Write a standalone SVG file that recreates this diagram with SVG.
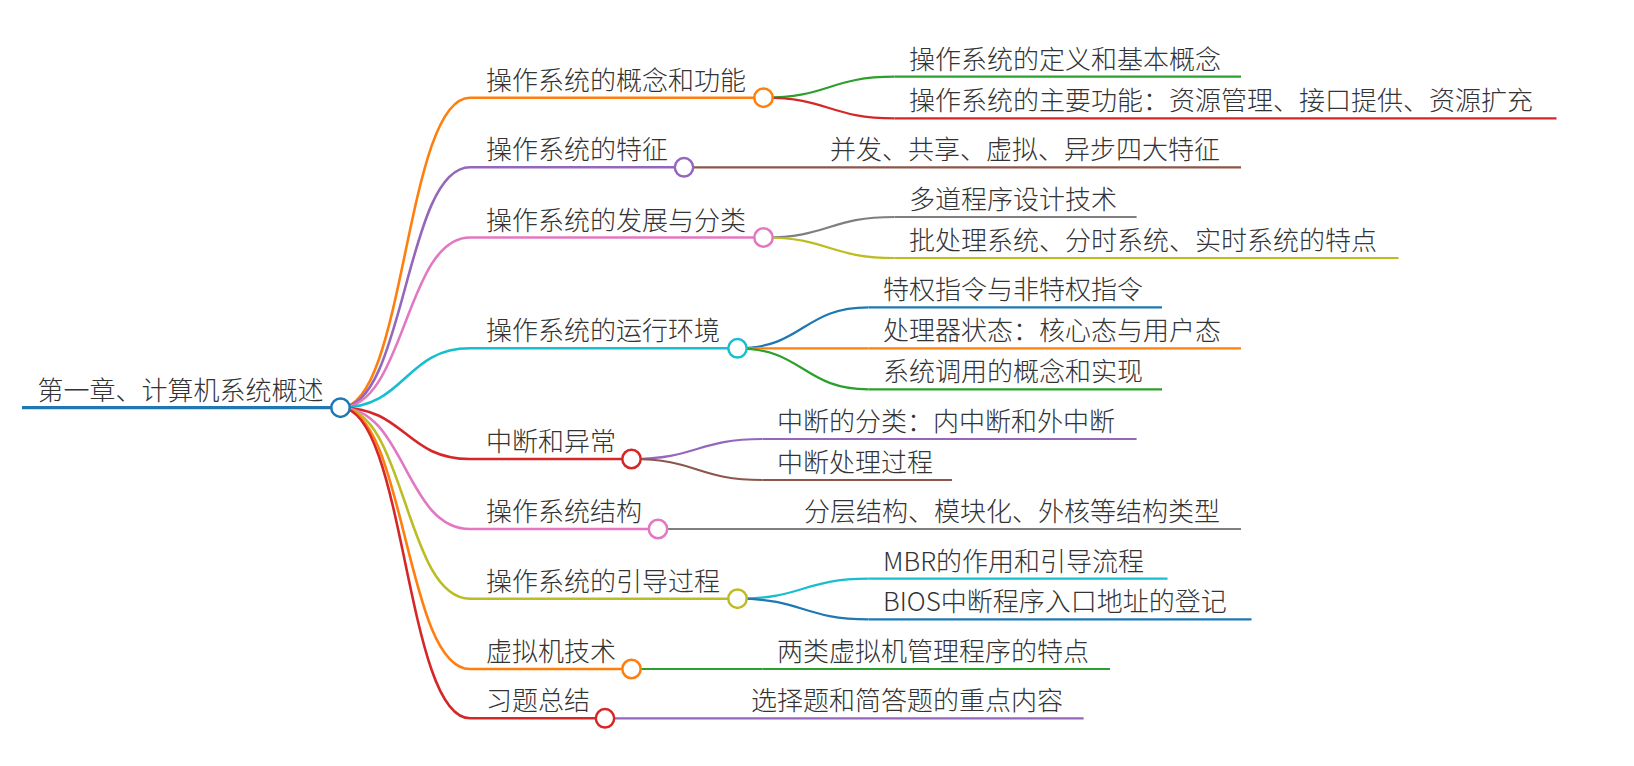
<svg xmlns="http://www.w3.org/2000/svg" width="1634" height="766" viewBox="0 0 1634 766">
<style>
text{font-family:"Noto Sans CJK SC","Noto Sans",sans-serif;font-size:26px;font-weight:300;fill:#333}
.l0{stroke-width:3.2;fill:none}
.l1{stroke-width:2.6;fill:none}
.l2{stroke-width:2.2;fill:none}
circle{fill:#fff;stroke-width:2.5}
</style>
<rect width="1634" height="766" fill="#fff"/>
<g id="connectors">
<path class="l1" stroke="#ff7f0e" d="M340.5,407.7 C405.25,407.7 405.25,97.7 470,97.7"/>
<path class="l1" stroke="#9467bd" d="M340.5,407.7 C405.25,407.7 405.25,167.3 470,167.3"/>
<path class="l1" stroke="#e377c2" d="M340.5,407.7 C405.25,407.7 405.25,237.5 470,237.5"/>
<path class="l1" stroke="#17becf" d="M340.5,407.7 C405.25,407.7 405.25,348.3 470,348.3"/>
<path class="l1" stroke="#d62728" d="M340.5,407.7 C405.25,407.7 405.25,459 470,459"/>
<path class="l1" stroke="#e377c2" d="M340.5,407.7 C405.25,407.7 405.25,529 470,529"/>
<path class="l1" stroke="#bcbd22" d="M340.5,407.7 C405.25,407.7 405.25,598.7 470,598.7"/>
<path class="l1" stroke="#ff7f0e" d="M340.5,407.7 C405.25,407.7 405.25,669 470,669"/>
<path class="l1" stroke="#d62728" d="M340.5,407.7 C405.25,407.7 405.25,718.3 470,718.3"/>
<path class="l2" stroke="#2ca02c" d="M763.5,97.7 C829,97.7 829,76.7 894.5,76.7"/>
<path class="l2" stroke="#d62728" d="M763.5,97.7 C829,97.7 829,118.3 894.5,118.3"/>
<path class="l2" stroke="#8c564b" d="M684,167.3 L815,167.3"/>
<path class="l2" stroke="#7f7f7f" d="M763.5,237.5 C829,237.5 829,217 894.5,217"/>
<path class="l2" stroke="#bcbd22" d="M763.5,237.5 C829,237.5 829,258 894.5,258"/>
<path class="l2" stroke="#1f77b4" d="M737.5,348.3 C803,348.3 803,307.3 868.5,307.3"/>
<path class="l2" stroke="#ff7f0e" d="M737.5,348.3 L868.5,348.3"/>
<path class="l2" stroke="#2ca02c" d="M737.5,348.3 C803,348.3 803,389.3 868.5,389.3"/>
<path class="l2" stroke="#9467bd" d="M631.5,459 C697,459 697,439 762.5,439"/>
<path class="l2" stroke="#8c564b" d="M631.5,459 C697,459 697,480 762.5,480"/>
<path class="l2" stroke="#7f7f7f" d="M658,529 L789,529"/>
<path class="l2" stroke="#17becf" d="M737.5,598.7 C803,598.7 803,578.7 868.5,578.7"/>
<path class="l2" stroke="#1f77b4" d="M737.5,598.7 C803,598.7 803,619.3 868.5,619.3"/>
<path class="l2" stroke="#2ca02c" d="M631.5,669 L762.5,669"/>
<path class="l2" stroke="#9467bd" d="M605,718.3 L736,718.3"/>
</g>
<g id="root">
<line class="l0" stroke="#1f77b4" x1="22" y1="407.7" x2="340.5" y2="407.7"/>
<circle cx="340.5" cy="407.7" r="9.2" stroke="#1f77b4"/>
<text x="37.5" y="399.7">第一章、计算机系统概述</text>
</g>
<g id="n1">
<line class="l1" stroke="#ff7f0e" x1="470" y1="97.7" x2="763.5" y2="97.7"/>
<circle cx="763.5" cy="97.7" r="9.2" stroke="#ff7f0e"/>
<text x="486" y="89.7">操作系统的概念和功能</text>
</g>
<g id="n2">
<line class="l1" stroke="#9467bd" x1="470" y1="167.3" x2="684" y2="167.3"/>
<circle cx="684" cy="167.3" r="9.2" stroke="#9467bd"/>
<text x="486" y="159.3">操作系统的特征</text>
</g>
<g id="n3">
<line class="l1" stroke="#e377c2" x1="470" y1="237.5" x2="763.5" y2="237.5"/>
<circle cx="763.5" cy="237.5" r="9.2" stroke="#e377c2"/>
<text x="486" y="229.5">操作系统的发展与分类</text>
</g>
<g id="n4">
<line class="l1" stroke="#17becf" x1="470" y1="348.3" x2="737.5" y2="348.3"/>
<circle cx="737.5" cy="348.3" r="9.2" stroke="#17becf"/>
<text x="486" y="340.3">操作系统的运行环境</text>
</g>
<g id="n5">
<line class="l1" stroke="#d62728" x1="470" y1="459" x2="631.5" y2="459"/>
<circle cx="631.5" cy="459" r="9.2" stroke="#d62728"/>
<text x="486" y="451">中断和异常</text>
</g>
<g id="n6">
<line class="l1" stroke="#e377c2" x1="470" y1="529" x2="658" y2="529"/>
<circle cx="658" cy="529" r="9.2" stroke="#e377c2"/>
<text x="486" y="521">操作系统结构</text>
</g>
<g id="n7">
<line class="l1" stroke="#bcbd22" x1="470" y1="598.7" x2="737.5" y2="598.7"/>
<circle cx="737.5" cy="598.7" r="9.2" stroke="#bcbd22"/>
<text x="486" y="590.7">操作系统的引导过程</text>
</g>
<g id="n8">
<line class="l1" stroke="#ff7f0e" x1="470" y1="669" x2="631.5" y2="669"/>
<circle cx="631.5" cy="669" r="9.2" stroke="#ff7f0e"/>
<text x="486" y="661">虚拟机技术</text>
</g>
<g id="n9">
<line class="l1" stroke="#d62728" x1="470" y1="718.3" x2="605" y2="718.3"/>
<circle cx="605" cy="718.3" r="9.2" stroke="#d62728"/>
<text x="486" y="710.3">习题总结</text>
</g>
<g id="n1a">
<line class="l2" stroke="#2ca02c" x1="894.5" y1="76.7" x2="1241" y2="76.7"/>
<text x="909" y="68.7">操作系统的定义和基本概念</text>
</g>
<g id="n1b">
<line class="l2" stroke="#d62728" x1="894.5" y1="118.3" x2="1556.5" y2="118.3"/>
<text x="909" y="110.3">操作系统的主要功能：资源管理、接口提供、资源扩充</text>
</g>
<g id="n2a">
<line class="l2" stroke="#8c564b" x1="815" y1="167.3" x2="1241" y2="167.3"/>
<text x="830" y="159.3">并发、共享、虚拟、异步四大特征</text>
</g>
<g id="n3a">
<line class="l2" stroke="#7f7f7f" x1="894.5" y1="217" x2="1136.6" y2="217"/>
<text x="909" y="209">多道程序设计技术</text>
</g>
<g id="n3b">
<line class="l2" stroke="#bcbd22" x1="894.5" y1="258" x2="1398.6" y2="258"/>
<text x="909" y="250">批处理系统、分时系统、实时系统的特点</text>
</g>
<g id="n4a">
<line class="l2" stroke="#1f77b4" x1="868.5" y1="307.3" x2="1162" y2="307.3"/>
<text x="883" y="299.3">特权指令与非特权指令</text>
</g>
<g id="n4b">
<line class="l2" stroke="#ff7f0e" x1="868.5" y1="348.3" x2="1241" y2="348.3"/>
<text x="883" y="340.3">处理器状态：核心态与用户态</text>
</g>
<g id="n4c">
<line class="l2" stroke="#2ca02c" x1="868.5" y1="389.3" x2="1162" y2="389.3"/>
<text x="883" y="381.3">系统调用的概念和实现</text>
</g>
<g id="n5a">
<line class="l2" stroke="#9467bd" x1="762.5" y1="439" x2="1136.6" y2="439"/>
<text x="777" y="431">中断的分类：内中断和外中断</text>
</g>
<g id="n5b">
<line class="l2" stroke="#8c564b" x1="762.5" y1="480" x2="952" y2="480"/>
<text x="777" y="472">中断处理过程</text>
</g>
<g id="n6a">
<line class="l2" stroke="#7f7f7f" x1="789" y1="529" x2="1241" y2="529"/>
<text x="804" y="521">分层结构、模块化、外核等结构类型</text>
</g>
<g id="n7a">
<line class="l2" stroke="#17becf" x1="868.5" y1="578.7" x2="1167.5" y2="578.7"/>
<text x="883" y="570.7">MBR的作用和引导流程</text>
</g>
<g id="n7b">
<line class="l2" stroke="#1f77b4" x1="868.5" y1="619.3" x2="1251.5" y2="619.3"/>
<text x="883" y="611.3">BIOS中断程序入口地址的登记</text>
</g>
<g id="n8a">
<line class="l2" stroke="#2ca02c" x1="762.5" y1="669" x2="1110" y2="669"/>
<text x="777" y="661">两类虚拟机管理程序的特点</text>
</g>
<g id="n9a">
<line class="l2" stroke="#9467bd" x1="736" y1="718.3" x2="1083.6" y2="718.3"/>
<text x="751" y="710.3">选择题和简答题的重点内容</text>
</g>
</svg>
